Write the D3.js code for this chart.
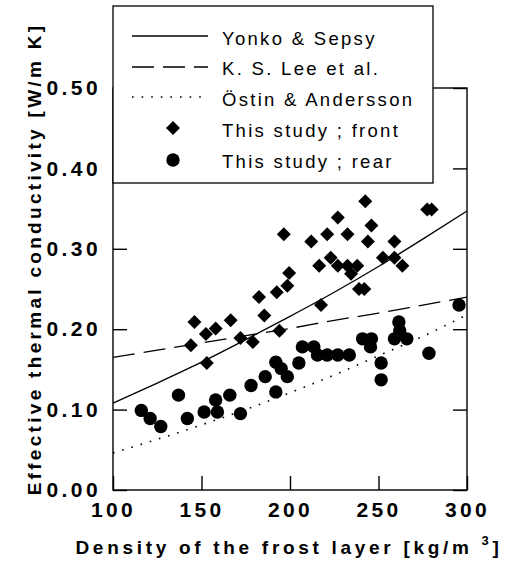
<!DOCTYPE html>
<html lang="en">
<head>
  <meta charset="utf-8">
  <title>Effective thermal conductivity of frost</title>
  <script src="https://d3js.org/d3.v7.min.js"></script>
  <style>
  body { margin: 0; background: #fff; }
  svg text { font-family: "Liberation Sans", Arial, sans-serif; fill: #000; }
  .axis text { font-size: 21px; font-weight: bold; letter-spacing: 3.4px; }
  .axis path, .axis line { stroke: #000; stroke-width: 1.4; }
  .title { font-size: 19px; font-weight: bold; letter-spacing: 3.3px; }
  .xtitle { letter-spacing: 3.7px; }
  .legend text { font-size: 18.5px; letter-spacing: 2.3px; }
  </style>
</head>
<body>
<div id="chart"></div>
<script>
// values
var curveDensity = [100, 125, 150, 175, 200, 225, 250, 275, 300];
var yonkoK = [0.108, 0.133, 0.159, 0.187, 0.216, 0.246, 0.278, 0.312, 0.347];
var leeK   = [0.165, 0.174, 0.183, 0.192, 0.201, 0.211, 0.220, 0.230, 0.240];
var ostinK = [0.046, 0.063, 0.081, 0.100, 0.121, 0.143, 0.167, 0.191, 0.218];

var frontDensity = [144, 146, 152.5, 153, 158, 166.5, 172, 179, 182.5, 185.5, 192.5, 194, 198.5, 199.5,
  196.5, 212, 216.5, 217.5, 221, 223, 227, 227, 232.5, 232.5, 234.5, 238, 239, 242, 242.5, 244,
  246, 252.5, 259, 259, 263.5, 277.5, 280];
var frontK = [0.180, 0.209, 0.194, 0.158, 0.201, 0.211, 0.189, 0.184, 0.240, 0.217, 0.246, 0.198, 0.254, 0.270,
  0.318, 0.309, 0.279, 0.230, 0.318, 0.289, 0.339, 0.279, 0.318, 0.279, 0.269, 0.279, 0.250, 0.250, 0.359, 0.309,
  0.329, 0.289, 0.309, 0.289, 0.279, 0.349, 0.349];

var rearDensity = [116, 121, 127, 137, 142, 151.5, 158, 159, 166, 172, 178, 186, 192, 192, 195, 198.5,
  205, 207, 213.5, 215.5, 221, 227, 233.5, 241, 246, 245.5, 251.5, 251.5, 261.5, 262, 259, 266, 278.5, 295.5];
var rearK = [0.099, 0.089, 0.079, 0.118, 0.089, 0.097, 0.112, 0.097, 0.118, 0.095, 0.130, 0.141, 0.159, 0.122, 0.151, 0.141,
  0.158, 0.178, 0.178, 0.168, 0.168, 0.168, 0.168, 0.188, 0.188, 0.178, 0.158, 0.137, 0.209, 0.198, 0.188, 0.188, 0.170, 0.230];

var xTicks = [100, 150, 200, 250, 300];
var yTicks = [0, 0.1, 0.2, 0.3, 0.4, 0.5];

var width = 507, height = 565;
var plotLeft = 113, plotRight = 467, plotTop = 88, plotBottom = 490;

var svg = d3.select("#chart").append("svg")
  .attr("width", width)
  .attr("height", height);

var x = d3.scaleLinear().domain([100, 300]).range([plotLeft, plotRight]);
var y = d3.scaleLinear().domain([0, 0.5]).range([plotBottom, plotTop]);

// frame
svg.append("rect")
  .attr("x", plotLeft).attr("y", plotTop)
  .attr("width", plotRight - plotLeft).attr("height", plotBottom - plotTop)
  .attr("fill", "none").attr("stroke", "#000").attr("stroke-width", 1.4);

svg.append("g").attr("class", "axis")
  .attr("transform", "translate(0," + plotBottom + ")")
  .call(d3.axisBottom(x).tickValues(xTicks).tickSize(-14).tickPadding(12).tickFormat(d3.format("d")))
  .call(g => g.select(".domain").remove());

svg.append("g").attr("class", "axis")
  .attr("transform", "translate(" + plotLeft + ",0)")
  .call(d3.axisLeft(y).tickValues(yTicks).tickSize(-14).tickPadding(12).tickFormat(d3.format(".2f")))
  .call(g => g.select(".domain").remove());

svg.append("g").attr("class", "axis")
  .attr("transform", "translate(" + plotRight + ",0)")
  .call(d3.axisRight(y).tickValues(yTicks).tickSize(-14).tickFormat(""))
  .call(g => g.select(".domain").remove());

// correlation curves
var line = d3.line().curve(d3.curveMonotoneX)
  .x(function(d) { return x(d[0]); })
  .y(function(d) { return y(d[1]); });

var curves = [
  { k: yonkoK, dash: null, w: 1.3 },
  { k: leeK, dash: "22,9", w: 1.3 },
  { k: ostinK, dash: "1.6,8", w: 1.6 }
];

curves.forEach(function(c) {
  svg.append("path")
    .datum(curveDensity.map(function(d, i) { return [d, c.k[i]]; }))
    .attr("d", line)
    .attr("fill", "none")
    .attr("stroke", "#000")
    .attr("stroke-width", c.w)
    .attr("stroke-dasharray", c.dash);
});

var diamond = d3.symbol().type(d3.symbolSquare).size(98);
var circle = d3.symbol().type(d3.symbolCircle).size(141);

svg.append("g").selectAll("path")
  .data(rearDensity.map(function(d, i) { return [d, rearK[i]]; }))
  .join("path")
  .attr("d", circle)
  .attr("transform", function(d) { return "translate(" + x(d[0]) + "," + y(d[1]) + ")"; })
  .attr("fill", "#000");

svg.append("g").selectAll("path")
  .data(frontDensity.map(function(d, i) { return [d, frontK[i]]; }))
  .join("path")
  .attr("d", diamond)
  .attr("transform", function(d) { return "translate(" + x(d[0]) + "," + y(d[1]) + ") rotate(45)"; })
  .attr("fill", "#000");

// legend box sits over the top of the plot
var legend = svg.append("g").attr("class", "legend");
legend.append("rect")
  .attr("x", plotLeft).attr("y", 6)
  .attr("width", 433 - plotLeft).attr("height", 177)
  .attr("fill", "#fff").attr("stroke", "#000").attr("stroke-width", 1.3);

var legendNames = ["Yonko & Sepsy", "K. S. Lee et al.", "\u00D6stin & Andersson", "This study ; front", "This study ; rear"];
var rowY = [36, 67, 97, 128, 160];
var baseY = [45, 75, 106, 136.5, 168];

legendNames.forEach(function(name, i) {
  if (i < 3) {
    legend.append("line")
      .attr("x1", 132).attr("x2", 208)
      .attr("y1", rowY[i]).attr("y2", rowY[i])
      .attr("stroke", "#000")
      .attr("stroke-width", curves[i].w)
      .attr("stroke-dasharray", curves[i].dash);
  } else if (i == 3) {
    legend.append("path").attr("d", diamond)
      .attr("transform", "translate(173," + rowY[i] + ") rotate(45)");
  } else {
    legend.append("path").attr("d", circle)
      .attr("transform", "translate(173," + rowY[i] + ")");
  }
  legend.append("text").attr("x", 222).attr("y", baseY[i]).text(name);
});

// axis titles
var xt = svg.append("text").attr("class", "title xtitle")
  .attr("x", 289).attr("y", 554)
  .attr("text-anchor", "middle");
xt.append("tspan").text("Density of the frost layer [kg/m ");
xt.append("tspan").attr("dy", -9).style("font-size", "13px").text("3");
xt.append("tspan").attr("dy", 9).text("]");

svg.append("text").attr("class", "title")
  .attr("transform", "translate(41,259) rotate(-90)")
  .attr("text-anchor", "middle")
  .text("Effective thermal conductivity [W/m K]");
</script>
</body>
</html>
